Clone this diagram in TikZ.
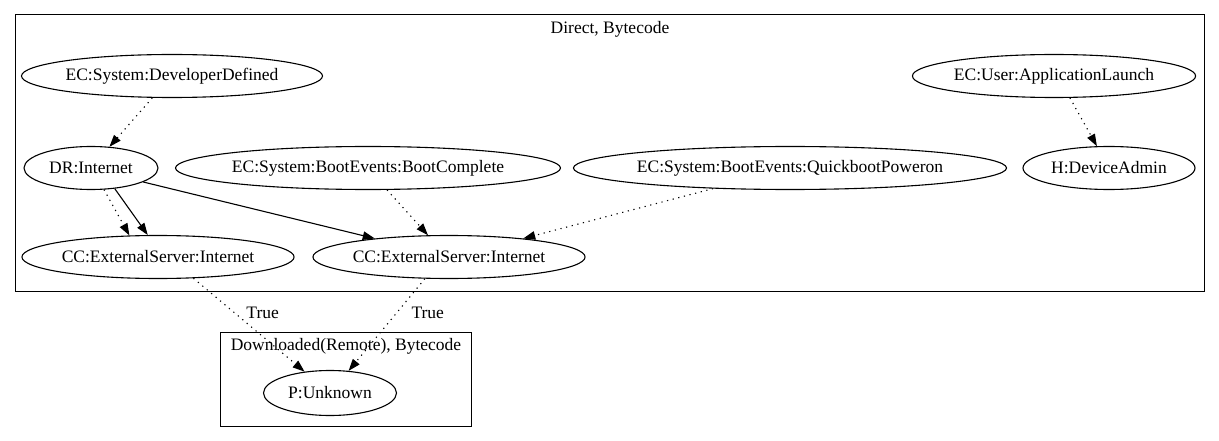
\documentclass[tikz,border=0pt]{standalone}
\usepackage{fontspec}
\setmainfont{Liberation Serif}
\usetikzlibrary{shapes.geometric,arrows.meta}

\begin{document}
\begin{tikzpicture}[x=1pt,y=-1pt,line width=1.1pt,
  ev/.style ={draw,shape=ellipse,inner sep=0pt,minimum height=43pt},
  dot/.style ={dash pattern=on 1.2pt off 4.6pt},
  tip/.style ={-{Triangle[length=12pt,width=8.5pt]}},
  font=\fontsize{17.5}{20}\selectfont]
\useasboundingbox (0,0) rectangle (1219,441);

%Direct, Bytecode
\draw [line width=1pt] (15,15) rectangle (1204,291);
\node (T1) at (610,29) {Direct, Bytecode};

\node[ev,minimum width=296pt] (dev) at (172,76) {EC:System:DeveloperDefined};
\node[ev,minimum width=282pt] (app) at (1054,76) {EC:User:ApplicationLaunch};
\node[ev,minimum width=134pt] (dr) at (91,168) {DR:Internet};
\node[ev,minimum width=375pt] (bc) at (368,168) {EC:System:BootEvents:BootComplete};
\node[ev,minimum width=423pt] (qb) at (790,168) {EC:System:BootEvents:QuickbootPoweron};
\node[ev,minimum width=172pt] (adm) at (1109,168) {H:DeviceAdmin};
\node[ev,minimum width=268pt] (ccl) at (158,257) {CC:ExternalServer:Internet};
\node[ev,minimum width=269pt] (ccr) at (449,257) {CC:ExternalServer:Internet};

%Downloaded(Remote), Bytecode
\draw [line width=1pt] (220,332) rectangle (471,426);
\node (T2) at (346,346) {Downloaded(Remote), Bytecode};
\node[ev,minimum width=133pt,minimum height=45pt] (pu) at (330,393) {P:Unknown};

\path (dev.-132) edge [dot,tip] (dr.49);
\path (app.-54) edge [dot,tip] (adm.119);
\path (dr.-59) edge [dot,tip] (ccl.143);
\path (dr.-41) edge [tip] (ccl.115);
\path (dr.-15) edge [tip] (ccr.166.6);
\path (bc.-49) edge [dot,tip] (ccr.134);
\path (qb.-165) edge [dot,tip] (ccr.14.5);

\path (ccl.-31.5) edge [dot,tip] node[pos=0.37,right=8pt] {True} (pu.140);
\path (ccr.-138.5) edge [dot,tip] node[pos=0.37,right=11pt] {True} (pu.50);
\end{tikzpicture}
\end{document}
